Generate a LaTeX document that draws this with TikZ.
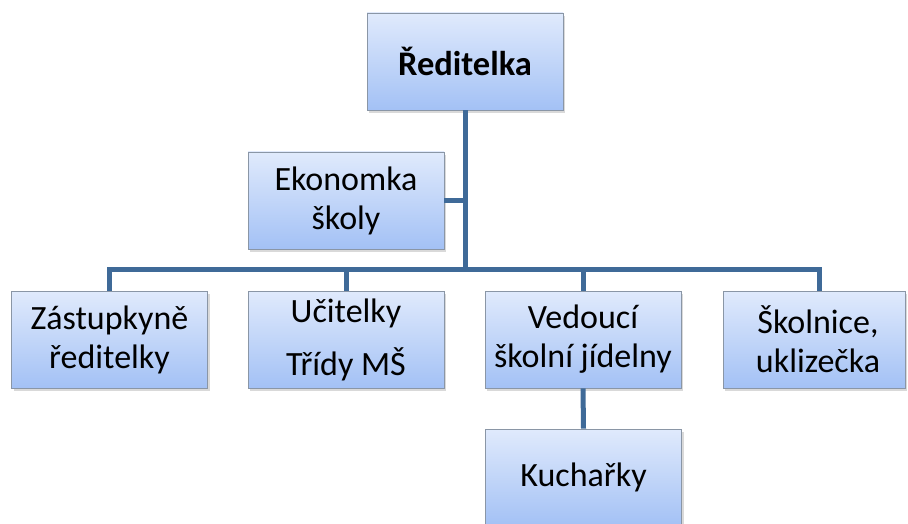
\documentclass[tikz,border=0pt]{standalone}
\usepackage{fontspec}
\setmainfont{Carlito}
\usetikzlibrary{shadows}
\definecolor{linkblue}{HTML}{3F6A98}
\definecolor{boxtop}{HTML}{E0EAFC}
\definecolor{boxbot}{HTML}{A3C1F5}
\definecolor{boxedge}{HTML}{8A96A6}
\tikzset{
  unit/.style={draw=boxedge, line width=0.8pt, top color=boxtop, bottom color=boxbot,
    minimum width=196pt, minimum height=97pt, inner sep=0pt, align=center,
    font=\fontsize{34}{39}\selectfont,
    drop shadow={shadow xshift=2pt, shadow yshift=-3pt, opacity=0.3}},
  link/.style={draw=linkblue, line width=5pt, line join=miter}
}
\begin{document}
\begin{tikzpicture}[x=1pt,y=-1pt]
\useasboundingbox (0,0) rectangle (908,524);

% staff boxes
\node[unit, font=\fontsize{34.5}{39}\selectfont\bfseries] (red) at (465,61.5) {Ředitelka};
\node[unit] (eko) at (346,200.5) {Ekonomka\\školy};
\node[unit] (zas) at (109.5,339.5) {Zástupkyně\\ředitelky};
\node[unit] (uci) at (346,339.5) {Učitelky\\[14pt]Třídy MŠ};
\node[unit] (ved) at (583,339.5) {Vedoucí\\školní jídelny};
\node[unit, minimum width=182pt] (sko) at (814,339.5) {\hspace*{8pt}Školnice,\\\hspace*{8pt}uklizečka};
\node[unit] (kuc) at (583.5,477.5) {Kuchařky};

% connectors
\coordinate (bus) at (465,269);
\coordinate (skotop) at (819,291);
\draw[link] (red.south) -- (bus);
\draw[link] (eko.east) -- (eko.east -| bus);
\draw[link] (zas.north) |- (bus) -| (skotop);
\draw[link] (uci.north) -- (uci.north |- bus);
\draw[link] (ved.north) -- (ved.north |- bus);
\draw[link] (ved.south) -- (kuc.north);
\end{tikzpicture}
\end{document}
